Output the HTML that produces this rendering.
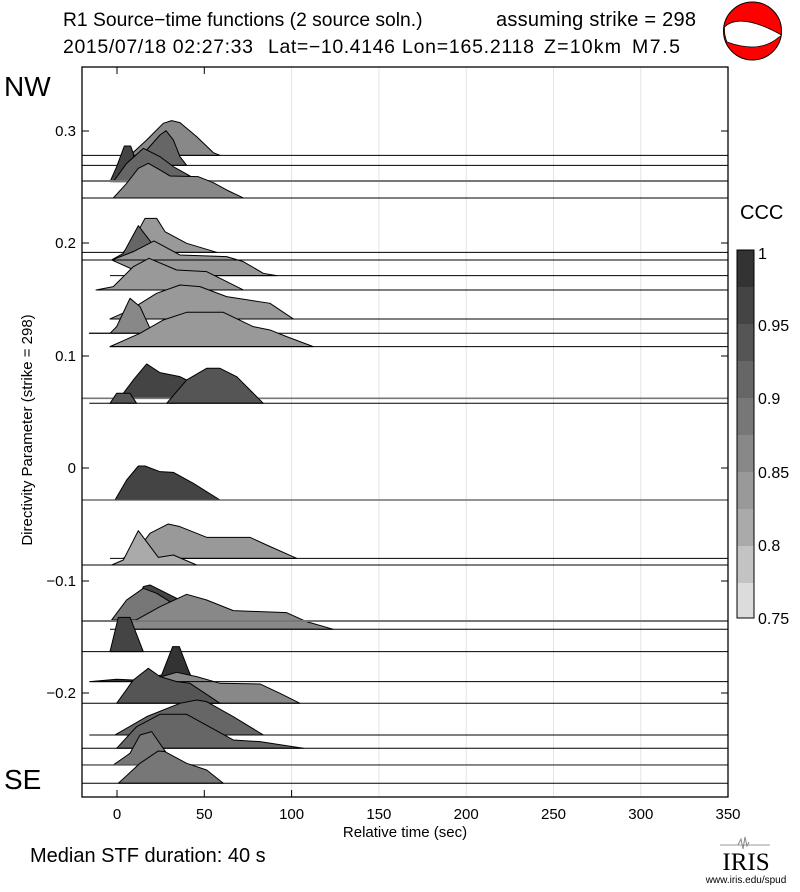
<!DOCTYPE html>
<html><head><meta charset="utf-8"><style>
body{margin:0;background:#fff;width:800px;height:887px;overflow:hidden;font-family:"Liberation Sans",sans-serif}
text{white-space:pre}
</style></head><body>
<svg width="800" height="887" viewBox="0 0 800 887" xmlns="http://www.w3.org/2000/svg" font-family="Liberation Sans, sans-serif">
<rect width="800" height="887" fill="#fff"/>
<text x="63" y="26" font-size="19.3">R1 Source−time functions (2 source soln.)</text>
<text x="496" y="26" font-size="20" textLength="200">assuming strike = 298</text>
<g font-size="19.5">
<text x="63" y="53" textLength="190">2015/07/18 02:27:33</text>
<text x="268" y="53" textLength="127">Lat=−10.4146</text>
<text x="402" y="53" textLength="132">Lon=165.2118</text>
<text x="544" y="53" textLength="77">Z=10km</text>
<text x="632" y="53" textLength="48">M7.5</text>
</g>
<!-- beachball -->
<circle cx="752.5" cy="31" r="29" fill="#f00" stroke="#000" stroke-width="1"/>
<path d="M724.5,27 Q740,12 781.5,35 Q780,37 779,37 Q760,54 727,42 Q724,35 724.5,27 Z" fill="#fff" stroke="#000" stroke-width="0.8"/>
<text x="4" y="96" font-size="28">NW</text>
<text x="4" y="789" font-size="28">SE</text>
<!-- grid -->
<g stroke="#e4e4e4" stroke-width="1">
<line x1="291.6" y1="67" x2="291.6" y2="797"/><line x1="378.9" y1="67" x2="378.9" y2="797"/><line x1="466.2" y1="67" x2="466.2" y2="797"/><line x1="553.5" y1="67" x2="553.5" y2="797"/><line x1="640.8" y1="67" x2="640.8" y2="797"/>
</g>
<g stroke="#000" stroke-width="1" stroke-linejoin="round">
<g transform="translate(80,60) scale(0.3333)">
<polygon fill="#888" points="150,286 200,240 250,190 275,182 300,188 350,230 400,278 420,286" stroke="#000" stroke-width="3"/>
<line x1="6" y1="286" x2="1944" y2="286" stroke-width="3"/>
<polygon fill="#666" points="150,316 200,270 240,225 258,212 280,240 300,290 320,316" stroke-width="3"/>
<line x1="6" y1="316" x2="1944" y2="316" stroke-width="3"/>
<polygon fill="#444" points="90,365 110,320 133,258 152,258 160,280 170,365" stroke-width="3"/>
<polygon fill="#666" points="100,365 140,310 190,265 240,290 280,320 330,348 200,365" stroke-width="3"/>
<line x1="6" y1="363" x2="1944" y2="363" stroke="#777" stroke-width="6"/>
<polygon fill="#888" points="100,414 140,370 175,325 205,310 240,330 270,348 355,350 400,368 440,390 490,414" stroke-width="3"/>
<line x1="6" y1="414" x2="1944" y2="414" stroke-width="3"/>
<polygon fill="#999" points="130,577 160,540 195,475 230,475 255,515 320,550 410,577" stroke-width="3"/>
<line x1="6" y1="577" x2="1944" y2="577" stroke-width="3"/>
<polygon fill="#666" points="95,600 130,580 175,497 212,545 230,600" stroke-width="3"/>
<polygon fill="#999" points="95,600 160,575 222,543 300,585 440,590 490,605 550,640 590,647 200,647" stroke-width="3"/>
<line x1="6" y1="600" x2="1944" y2="600" stroke-width="3"/>
<line x1="90" y1="647" x2="1944" y2="647" stroke-width="3"/>
<polygon fill="#999" points="48,690 100,680 160,620 207,595 290,630 380,635 430,660 490,690" stroke-width="3"/>
<line x1="48" y1="690" x2="1944" y2="690" stroke-width="3"/>
<polygon fill="#999" points="90,777 150,750 230,700 300,675 360,680 440,710 570,730 640,777" stroke-width="3"/>
<line x1="90" y1="777" x2="1944" y2="777" stroke-width="3"/>
<polygon fill="#888" points="28,820 90,820 110,800 150,715 180,740 210,805 230,820" stroke-width="3"/>
<line x1="28" y1="820" x2="1944" y2="820" stroke-width="3"/>
<polygon fill="#999" points="90,860 180,820 250,780 320,757 430,757 520,800 570,810 620,830 700,860" stroke-width="3"/>
<line x1="90" y1="860" x2="1944" y2="860" stroke-width="3"/>
<polygon fill="#444" points="130,1000 160,960 200,912 240,938 300,950 330,965 380,1015 130,1015" stroke-width="3"/>
<line x1="6" y1="1015" x2="1944" y2="1015" stroke="#777" stroke-width="5"/>
<polygon fill="#555" points="260,1030 320,960 380,925 420,925 470,950 550,1030" stroke-width="3"/>
<polygon fill="#555" points="90,1030 110,1000 150,1000 170,1030" stroke-width="3"/>
<line x1="28" y1="1030" x2="1944" y2="1030" stroke-width="3"/>
</g>
<g transform="translate(80,420) scale(0.3333)">
<polygon fill="#444" points="105,240 140,180 175,138 195,138 240,155 280,157 340,190 420,240" stroke-width="3"/>
<line x1="6" y1="240" x2="1944" y2="240" stroke="#555" stroke-width="4"/>
<polygon fill="#999" points="130,415 180,380 210,340 265,312 300,320 380,352 510,352 560,375 650,415" stroke-width="3"/>
<line x1="90" y1="415" x2="1944" y2="415" stroke-width="3"/>
<polygon fill="#aaa" points="95,435 130,420 175,332 235,412 280,405 350,435" stroke-width="3"/>
<line x1="6" y1="435" x2="1944" y2="435" stroke-width="3"/>
<polygon fill="#444" points="150,600 190,500 210,495 300,540 200,600" stroke-width="3"/>
<polygon fill="#777" points="95,600 140,540 190,505 230,520 270,545 200,600" stroke-width="3"/>
<polygon fill="#888" points="150,610 240,560 320,523 380,540 460,572 620,578 680,605 760,628 150,628" stroke-width="3"/>
<line x1="6" y1="603" x2="1944" y2="603" stroke="#777" stroke-width="6"/>
<line x1="90" y1="628" x2="1944" y2="628" stroke-width="3"/>
<polygon fill="#444" points="90,695 115,592 150,592 190,695" stroke-width="3"/>
<line x1="6" y1="695" x2="1944" y2="695" stroke-width="3"/>
<polygon fill="#333" points="30,785 110,778 160,780 245,765 278,680 298,680 325,750 340,785" stroke-width="3"/>
<polygon fill="#888" points="245,770 290,757 350,770 420,790 540,792 600,820 660,850 300,850" stroke-width="3"/>
<line x1="28" y1="785" x2="1944" y2="785" stroke-width="3"/>
<polygon fill="#555" points="110,850 160,780 205,745 240,770 290,785 330,790 420,850" stroke-width="3"/>
<line x1="6" y1="850" x2="1944" y2="850" stroke-width="3"/>
<polygon fill="#666" points="105,945 200,890 300,850 350,840 380,845 460,890 550,945" stroke-width="3"/>
<line x1="28" y1="945" x2="1944" y2="945" stroke-width="3"/>
<polygon fill="#666" points="110,985 170,920 240,883 320,883 460,960 540,965 670,985" stroke-width="3"/>
<line x1="6" y1="985" x2="1944" y2="985" stroke-width="3"/>
<polygon fill="#777" points="100,1035 150,1000 180,945 215,935 260,1000 310,1035" stroke-width="3"/>
<line x1="6" y1="1035" x2="1944" y2="1035" stroke="#555" stroke-width="4"/>
<polygon fill="#777" points="115,1090 180,1030 235,993 255,995 320,1030 380,1050 430,1090" stroke-width="3"/>
<line x1="6" y1="1090" x2="1944" y2="1090" stroke-width="3"/>
</g>
</g>
<!-- frame -->
<rect x="82" y="67" width="646" height="730" fill="none" stroke="#000" stroke-width="1.3"/>
<g stroke="#000" stroke-width="1">
<line x1="117" y1="67" x2="117" y2="74"/><line x1="204.3" y1="67" x2="204.3" y2="74"/>
<line x1="117" y1="797" x2="117" y2="790"/><line x1="204.3" y1="797" x2="204.3" y2="790"/><line x1="291.6" y1="797" x2="291.6" y2="790"/>
<line x1="82" y1="131" x2="89" y2="131"/><line x1="82" y1="243" x2="89" y2="243"/><line x1="82" y1="356" x2="89" y2="356"/><line x1="82" y1="468" x2="89" y2="468"/><line x1="82" y1="581" x2="89" y2="581"/><line x1="82" y1="693" x2="89" y2="693"/>
<line x1="728" y1="131" x2="721" y2="131"/><line x1="728" y1="243" x2="721" y2="243"/><line x1="728" y1="356" x2="721" y2="356"/><line x1="728" y1="468" x2="721" y2="468"/><line x1="728" y1="581" x2="721" y2="581"/><line x1="728" y1="693" x2="721" y2="693"/>
</g>
<g font-size="15" text-anchor="end">
<text x="76" y="136">0.3</text><text x="76" y="248">0.2</text><text x="76" y="361">0.1</text><text x="76" y="473">0</text><text x="76" y="586">−0.1</text><text x="76" y="698">−0.2</text>
</g>
<g font-size="15" text-anchor="middle">
<text x="117" y="819">0</text><text x="204.3" y="819">50</text><text x="291.6" y="819">100</text><text x="378.9" y="819">150</text><text x="466.2" y="819">200</text><text x="553.5" y="819">250</text><text x="640.8" y="819">300</text><text x="728" y="819">350</text>
<text x="405" y="837">Relative time (sec)</text>
</g>
<text transform="translate(32,430) rotate(-90)" font-size="15" text-anchor="middle">Directivity Parameter (strike = 298)</text>
<text x="30" y="862" font-size="20">Median STF duration: 40 s</text>
<!-- colorbar -->
<text x="740" y="219" font-size="20">CCC</text>
<g>
<rect x="737" y="250" width="17" height="37" fill="#333"/>
<rect x="737" y="287" width="17" height="37" fill="#444"/>
<rect x="737" y="324" width="17" height="37" fill="#555"/>
<rect x="737" y="361" width="17" height="37" fill="#666"/>
<rect x="737" y="398" width="17" height="37" fill="#777"/>
<rect x="737" y="435" width="17" height="37" fill="#888"/>
<rect x="737" y="472" width="17" height="37" fill="#999"/>
<rect x="737" y="509" width="17" height="37" fill="#aaa"/>
<rect x="737" y="546" width="17" height="37" fill="#c3c3c3"/>
<rect x="737" y="583" width="17" height="35" fill="#dcdcdc"/>
<rect x="737" y="250" width="17" height="368" fill="none" stroke="#000" stroke-width="1"/>
</g>
<g font-size="16">
<text x="758" y="259">1</text><text x="758" y="331">0.95</text><text x="758" y="404">0.9</text><text x="758" y="478">0.85</text><text x="758" y="551">0.8</text><text x="758" y="624">0.75</text>
</g>
<!-- IRIS -->
<line x1="720" y1="845" x2="770" y2="845" stroke="#999" stroke-width="1"/>
<path d="M738,845 l3,-6 l2,10 l2,-12 l2,9 l2,-4" stroke="#888" fill="none"/>
<text x="746" y="870" font-family="Liberation Serif, serif" font-size="25" text-anchor="middle">IRIS</text>
<text x="746" y="883" font-size="10" text-anchor="middle">www.iris.edu/spud</text>
</svg>
</body></html>
